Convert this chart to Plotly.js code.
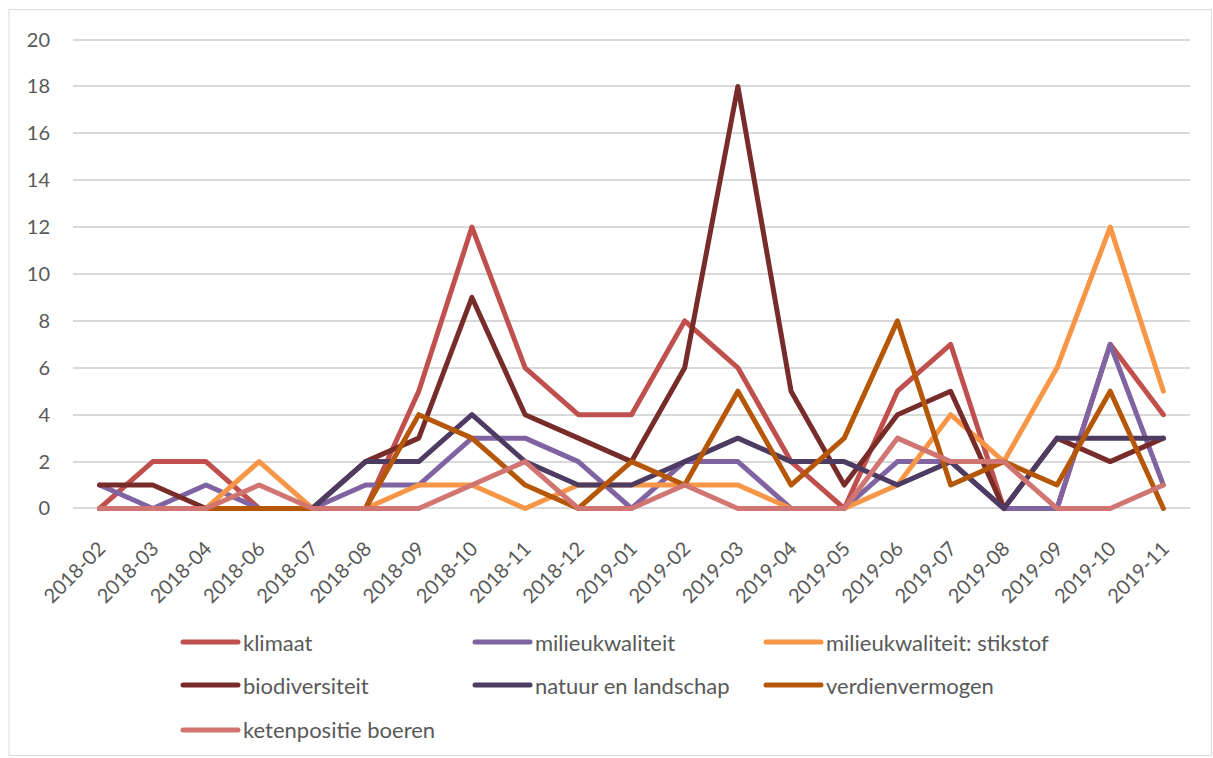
<!DOCTYPE html>
<html>
<head>
<meta charset="utf-8">
<script src="https://cdn.plot.ly/plotly-3.0.1.min.js"></script>
<style>
html,body{margin:0;padding:0;background:#fff;}
#chart{width:1213px;height:758px;}
path.js-line{stroke-linejoin:round;stroke-linecap:round;}
</style>
</head>
<body>
<div id="chart"></div>
<script>
const months = ["2018-02","2018-03","2018-04","2018-06","2018-07","2018-08","2018-09","2018-10","2018-11","2018-12",
  "2019-01","2019-02","2019-03","2019-04","2019-05","2019-06","2019-07","2019-08","2019-09","2019-10","2019-11"];
const klimaat          = [0,2,2,0,0,0,5,12,6,4,4,8,6,2,0,5,7,0,0,7,4];
const milieukwaliteit  = [1,0,1,0,0,1,1,3,3,2,0,2,2,0,0,2,2,0,0,7,1];
const stikstof         = [0,0,0,2,0,0,1,1,0,1,1,1,1,0,0,1,4,2,6,12,5];
const biodiversiteit   = [1,1,0,0,0,2,3,9,4,3,2,6,18,5,1,4,5,0,3,2,3];
const natuurLandschap  = [0,0,0,0,0,2,2,4,2,1,1,2,3,2,2,1,2,0,3,3,3];
const verdienvermogen  = [0,0,0,0,0,0,4,3,1,0,2,1,5,1,3,8,1,2,1,5,0];
const ketenpositie     = [0,0,0,1,0,0,0,1,2,0,0,1,0,0,0,3,2,2,0,0,1];
const yTicks = [0,2,4,6,8,10,12,14,16,18,20];

const series = [
  {name:"klimaat", y:klimaat, color:"#C0504D"},
  {name:"milieukwaliteit", y:milieukwaliteit, color:"#8064A2"},
  {name:"milieukwaliteit: stikstof", y:stikstof, color:"#F79646"},
  {name:"biodiversiteit", y:biodiversiteit, color:"#772C2A"},
  {name:"natuur en landschap", y:natuurLandschap, color:"#4D3B62"},
  {name:"verdienvermogen", y:verdienvermogen, color:"#B65708"},
  {name:"ketenpositie boeren", y:ketenpositie, color:"#D07571"}
];

const FONT = "Lato, 'Open Sans', sans-serif";
const plotL = 73, plotR = 1190, plotT = 35.5, plotB = 512.5;
const W = 1213, H = 758;
const pw = plotR - plotL, ph = plotB - plotT;
const px = v => (v - plotL) / pw;
const py = v => (plotB - v) / ph;

// legend grid: 3 columns, 3 rows (pixel anchors of line start / row centre)
const colX = [178, 470, 761];
const rowY = [642, 685, 730];

const traces = series.map((s, i) => ({
  type:"scatter", mode:"lines", x:months, y:s.y, name:s.name,
  line:{color:s.color, width:5}, legend: i === 0 ? "legend" : "legend" + (i + 1),
  hoverinfo:"x+y+name"
}));

const layout = {
  width:W, height:H,
  margin:{l:plotL, r:W-plotR, t:plotT, b:H-plotB, pad:0, autoexpand:false},
  paper_bgcolor:"#ffffff", plot_bgcolor:"#ffffff",
  font:{family:FONT, color:"#595959", size:20},
  showlegend:true,
  xaxis:{type:"category", range:[-0.5, months.length-0.5], tickangle:-45,
    showgrid:false, zeroline:false, showline:false, ticks:"", ticklabelstandoff:20,
    tickfont:{family:FONT, size:20, color:"#595959"}, automargin:false},
  yaxis:{range:[-0.15, 20.15], tickvals:yTicks, showgrid:true, gridcolor:"#D9D9D9", gridwidth:1.5,
    zeroline:false, showline:false, ticks:"", ticklabelstandoff:22,
    tickfont:{family:FONT, size:20, color:"#595959"}, automargin:false},
  shapes:[{type:"rect", xref:"paper", yref:"paper",
    x0:px(9), x1:px(1211.5), y0:py(756.5), y1:py(9),
    line:{color:"#D9D9D9", width:1}, fillcolor:"rgba(0,0,0,0)", layer:"below"}]
};

series.forEach((s, i) => {
  const key = i === 0 ? "legend" : "legend" + (i + 1);
  layout[key] = {
    orientation:"v", xanchor:"left", yanchor:"top",
    x:px(colX[i % 3]), y:py(rowY[Math.floor(i / 3)] - 20),
    font:{family:FONT, size:22, color:"#595959"},
    itemwidth:55, bgcolor:"rgba(0,0,0,0)", borderwidth:0
  };
});

Plotly.newPlot("chart", traces, layout, {displayModeBar:false, responsive:false});
</script>
</body>
</html>
